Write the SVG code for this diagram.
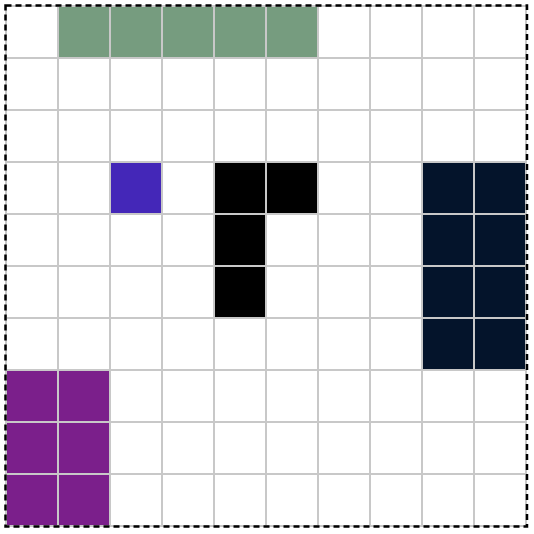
<svg xmlns="http://www.w3.org/2000/svg" width="534" height="534" viewBox="0 0 534 534">
<style>
.c{stroke:#c8c8c8;stroke-width:2}
.e{fill:#ffffff}
.g{fill:#769c7f}
.b{fill:#4427b8}
.k{fill:#000000}
.n{fill:#04142b}
.p{fill:#7b1f8b}
</style>
<rect width="534" height="534" fill="#ffffff"/>
<g id="grid">
<rect class="c e" x="6" y="6" width="52" height="52"/><rect class="c e" x="318" y="6" width="52" height="52"/><rect class="c e" x="370" y="6" width="52" height="52"/><rect class="c e" x="422" y="6" width="52" height="52"/><rect class="c e" x="474" y="6" width="52" height="52"/>
<rect class="c e" x="6" y="58" width="52" height="52"/><rect class="c e" x="58" y="58" width="52" height="52"/><rect class="c e" x="110" y="58" width="52" height="52"/><rect class="c e" x="162" y="58" width="52" height="52"/><rect class="c e" x="214" y="58" width="52" height="52"/><rect class="c e" x="266" y="58" width="52" height="52"/><rect class="c e" x="318" y="58" width="52" height="52"/><rect class="c e" x="370" y="58" width="52" height="52"/><rect class="c e" x="422" y="58" width="52" height="52"/><rect class="c e" x="474" y="58" width="52" height="52"/>
<rect class="c e" x="6" y="110" width="52" height="52"/><rect class="c e" x="58" y="110" width="52" height="52"/><rect class="c e" x="110" y="110" width="52" height="52"/><rect class="c e" x="162" y="110" width="52" height="52"/><rect class="c e" x="214" y="110" width="52" height="52"/><rect class="c e" x="266" y="110" width="52" height="52"/><rect class="c e" x="318" y="110" width="52" height="52"/><rect class="c e" x="370" y="110" width="52" height="52"/><rect class="c e" x="422" y="110" width="52" height="52"/><rect class="c e" x="474" y="110" width="52" height="52"/>
<rect class="c e" x="6" y="162" width="52" height="52"/><rect class="c e" x="58" y="162" width="52" height="52"/><rect class="c e" x="162" y="162" width="52" height="52"/><rect class="c e" x="318" y="162" width="52" height="52"/><rect class="c e" x="370" y="162" width="52" height="52"/>
<rect class="c e" x="6" y="214" width="52" height="52"/><rect class="c e" x="58" y="214" width="52" height="52"/><rect class="c e" x="110" y="214" width="52" height="52"/><rect class="c e" x="162" y="214" width="52" height="52"/><rect class="c e" x="266" y="214" width="52" height="52"/><rect class="c e" x="318" y="214" width="52" height="52"/><rect class="c e" x="370" y="214" width="52" height="52"/>
<rect class="c e" x="6" y="266" width="52" height="52"/><rect class="c e" x="58" y="266" width="52" height="52"/><rect class="c e" x="110" y="266" width="52" height="52"/><rect class="c e" x="162" y="266" width="52" height="52"/><rect class="c e" x="266" y="266" width="52" height="52"/><rect class="c e" x="318" y="266" width="52" height="52"/><rect class="c e" x="370" y="266" width="52" height="52"/>
<rect class="c e" x="6" y="318" width="52" height="52"/><rect class="c e" x="58" y="318" width="52" height="52"/><rect class="c e" x="110" y="318" width="52" height="52"/><rect class="c e" x="162" y="318" width="52" height="52"/><rect class="c e" x="214" y="318" width="52" height="52"/><rect class="c e" x="266" y="318" width="52" height="52"/><rect class="c e" x="318" y="318" width="52" height="52"/><rect class="c e" x="370" y="318" width="52" height="52"/>
<rect class="c e" x="110" y="370" width="52" height="52"/><rect class="c e" x="162" y="370" width="52" height="52"/><rect class="c e" x="214" y="370" width="52" height="52"/><rect class="c e" x="266" y="370" width="52" height="52"/><rect class="c e" x="318" y="370" width="52" height="52"/><rect class="c e" x="370" y="370" width="52" height="52"/><rect class="c e" x="422" y="370" width="52" height="52"/><rect class="c e" x="474" y="370" width="52" height="52"/>
<rect class="c e" x="110" y="422" width="52" height="52"/><rect class="c e" x="162" y="422" width="52" height="52"/><rect class="c e" x="214" y="422" width="52" height="52"/><rect class="c e" x="266" y="422" width="52" height="52"/><rect class="c e" x="318" y="422" width="52" height="52"/><rect class="c e" x="370" y="422" width="52" height="52"/><rect class="c e" x="422" y="422" width="52" height="52"/><rect class="c e" x="474" y="422" width="52" height="52"/>
<rect class="c e" x="110" y="474" width="52" height="52"/><rect class="c e" x="162" y="474" width="52" height="52"/><rect class="c e" x="214" y="474" width="52" height="52"/><rect class="c e" x="266" y="474" width="52" height="52"/><rect class="c e" x="318" y="474" width="52" height="52"/><rect class="c e" x="370" y="474" width="52" height="52"/><rect class="c e" x="422" y="474" width="52" height="52"/><rect class="c e" x="474" y="474" width="52" height="52"/>
</g>
<g id="green">
<rect class="c g" x="58" y="6" width="52" height="52"/><rect class="c g" x="110" y="6" width="52" height="52"/><rect class="c g" x="162" y="6" width="52" height="52"/><rect class="c g" x="214" y="6" width="52" height="52"/><rect class="c g" x="266" y="6" width="52" height="52"/>
</g>
<g id="blue">
<rect class="c b" x="110" y="162" width="52" height="52"/>
</g>
<g id="black">
<rect class="c k" x="214" y="162" width="52" height="52"/><rect class="c k" x="266" y="162" width="52" height="52"/><rect class="c k" x="214" y="214" width="52" height="52"/><rect class="c k" x="214" y="266" width="52" height="52"/>
</g>
<g id="navy">
<rect class="c n" x="422" y="162" width="52" height="52"/><rect class="c n" x="474" y="162" width="52" height="52"/><rect class="c n" x="422" y="214" width="52" height="52"/><rect class="c n" x="474" y="214" width="52" height="52"/><rect class="c n" x="422" y="266" width="52" height="52"/><rect class="c n" x="474" y="266" width="52" height="52"/><rect class="c n" x="422" y="318" width="52" height="52"/><rect class="c n" x="474" y="318" width="52" height="52"/>
</g>
<g id="purple">
<rect class="c p" x="6" y="370" width="52" height="52"/><rect class="c p" x="58" y="370" width="52" height="52"/><rect class="c p" x="6" y="422" width="52" height="52"/><rect class="c p" x="58" y="422" width="52" height="52"/><rect class="c p" x="6" y="474" width="52" height="52"/><rect class="c p" x="58" y="474" width="52" height="52"/>
</g>
<rect id="border" x="5.5" y="5.5" width="521.5" height="521" fill="none" stroke="#000000" stroke-width="2.5" stroke-dasharray="6,4"/>
</svg>
